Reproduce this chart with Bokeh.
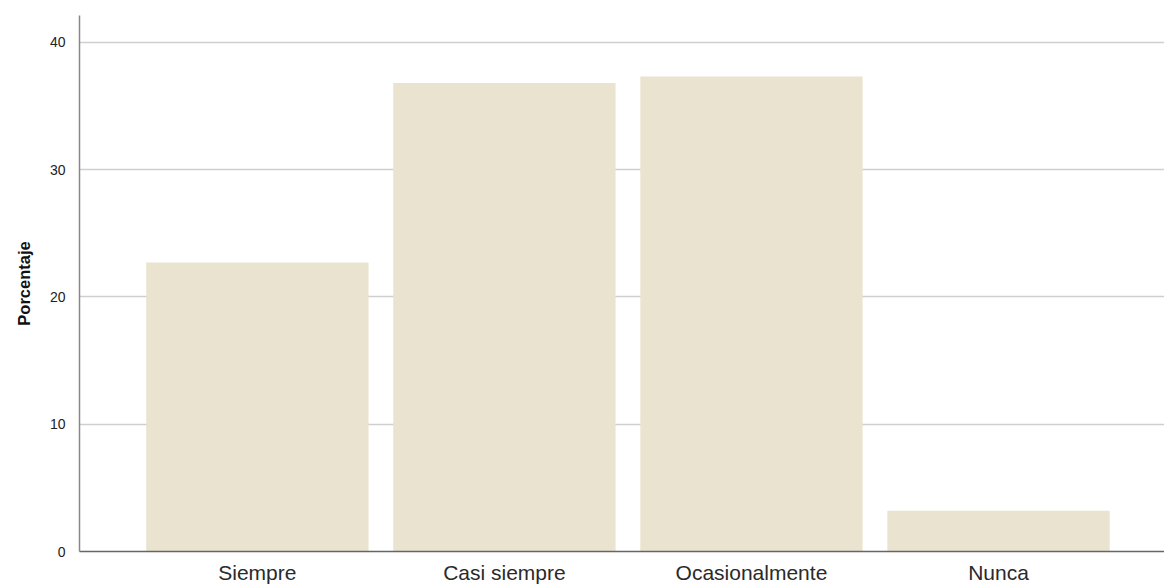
from bokeh.plotting import figure
from bokeh.models import Range1d, FixedTicker, ColumnDataSource
from bokeh.embed import file_html
from bokeh.resources import INLINE

categories = ["Siempre", "Casi siempre", "Ocasionalmente", "Nunca"]
percentages = [22.7, 36.8, 37.3, 3.2]
y_ticks = [0, 10, 20, 30, 40]

xs = list(range(len(categories)))
src = ColumnDataSource(dict(x=xs, top=percentages, cat=categories))

p = figure(width=1164, height=586, output_backend="svg", toolbar_location=None,
           x_range=Range1d(-0.72, 3.672), y_range=Range1d(0, 42.1),
           min_border_left=79, min_border_right=0, min_border_top=15, min_border_bottom=35)
p.outline_line_color = None
p.background_fill_color = "white"
p.border_fill_color = "white"

p.vbar(x="x", top="top", width=0.9, source=src, fill_color="#EAE3CF", line_color=None)

p.xgrid.grid_line_color = None
p.ygrid.grid_line_color = "#cfcfcf"
p.ygrid.grid_line_width = 1.5
p.ygrid.ticker = FixedTicker(ticks=y_ticks)

p.yaxis.ticker = FixedTicker(ticks=y_ticks)
p.yaxis.axis_label = "Porcentaje"
p.yaxis.axis_label_text_font = "Liberation Sans"
p.yaxis.axis_label_text_font_style = "bold"
p.yaxis.axis_label_text_font_size = "16.5px"
p.yaxis.axis_label_text_color = "#111111"
p.yaxis.axis_label_standoff = 14
p.yaxis.major_label_text_font = "Liberation Sans"
p.yaxis.major_label_text_font_size = "14px"
p.yaxis.major_label_text_color = "#222222"
p.yaxis.major_tick_line_color = None
p.yaxis.minor_tick_line_color = None
p.yaxis.axis_line_color = "#888888"
p.yaxis.axis_line_width = 1.5
p.yaxis.major_label_standoff = 8

p.xaxis.ticker = FixedTicker(ticks=xs)
p.xaxis.major_label_overrides = {i: c for i, c in enumerate(categories)}
p.xaxis.major_label_text_font = "Liberation Sans"
p.xaxis.major_label_text_font_size = "21px"
p.xaxis.major_label_text_color = "#2a2a2a"
p.xaxis.major_tick_line_color = None
p.xaxis.minor_tick_line_color = None
p.xaxis.axis_line_color = "#666666"
p.xaxis.axis_line_width = 1.5
p.xaxis.major_label_standoff = 3

open("out.html", "w").write(file_html(p, INLINE))
